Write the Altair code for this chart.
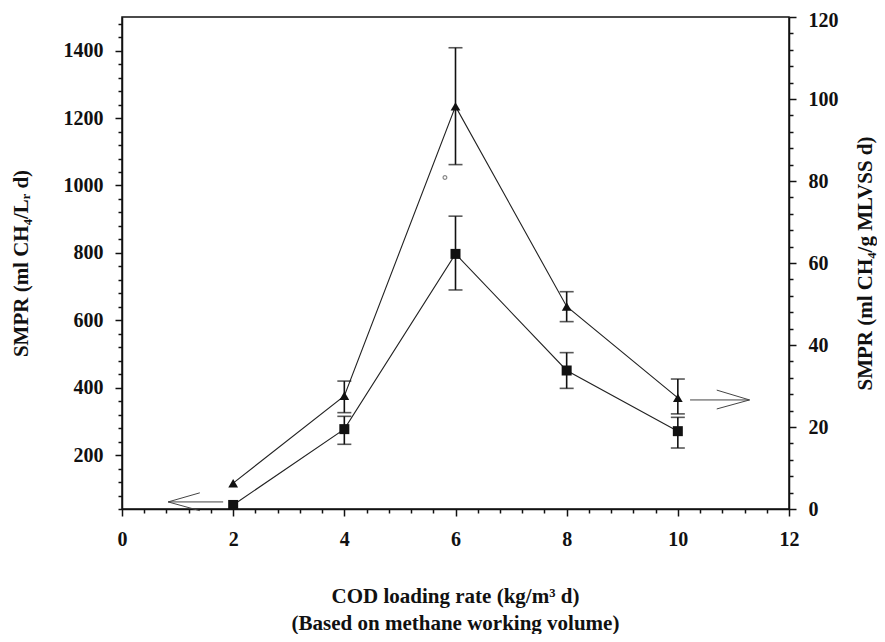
import altair as alt
import pandas as pd

# ---- data ----
cod_rate = [2, 4, 6, 8, 10]
# SMPR based on reactor volume (ml CH4/L_R d) – squares, left axis
smpr_vol = [52, 277, 797, 451, 271]
smpr_vol_lo = [None, 232, 690, 398, 221]
smpr_vol_hi = [None, 315, 909, 504, 312]
# SMPR based on biomass (ml CH4/g MLVSS d) – triangles, right axis
smpr_vss = [6.3, 27.6, 98.2, 49.4, 27.1]
smpr_vss_lo = [None, 23.5, 84.0, 45.7, 23.2]
smpr_vss_hi = [None, 31.2, 112.5, 53.0, 31.7]

# arrows (segments) pointing to the axis each series belongs to
left_arrow_x = [1.82, 0.83, 0.83]
left_arrow_x2 = [0.83, 1.40, 1.40]
left_arrow_y = [61, 61, 61]
left_arrow_y2 = [61, 88, 35]
right_arrow_x = [10.22, 11.29, 11.29]
right_arrow_x2 = [11.29, 10.70, 10.70]
right_arrow_y = [26.6, 26.6, 26.6]
right_arrow_y2 = [26.6, 29.0, 24.4]

# small stray circle in the scan
speck_x = [5.81]
speck_y = [1024]

x_ticks = [round(i * 0.4, 1) for i in range(31)]
left_ticks = list(range(40, 1501, 40))
right_ticks = list(range(0, 121, 4))

FONT = "Liberation Serif"

sq = pd.DataFrame({"x": cod_rate, "y": smpr_vol, "lo": smpr_vol_lo, "hi": smpr_vol_hi})
tr = pd.DataFrame({"x": cod_rate, "y": smpr_vss, "lo": smpr_vss_lo, "hi": smpr_vss_hi})
sq_err = sq.dropna()
tr_err = tr.dropna()
la = pd.DataFrame({"x": left_arrow_x, "x2": left_arrow_x2, "y": left_arrow_y, "y2": left_arrow_y2})
ra = pd.DataFrame({"x": right_arrow_x, "x2": right_arrow_x2, "y": right_arrow_y, "y2": right_arrow_y2})
sp = pd.DataFrame({"x": speck_x, "y": speck_y})

H = 492

x_axis = alt.Axis(
    values=x_ticks,
    labelExpr="abs(datum.value/2 - round(datum.value/2)) < 0.001 ? format(datum.value, '.0f') : ''",
    tickSize=alt.ExprRef(expr="abs(datum.value/2 - round(datum.value/2)) < 0.001 ? 7 : 4"),
    labelPadding=13,
    title=["COD loading rate (kg/m³ d)", "(Based on methane working volume)"],
    titleX=333, titleY=76, titleAlign="center", titleBaseline="top",
    titleLineHeight=27, grid=False,
)
x_enc = alt.X("x:Q", scale=alt.Scale(domain=[0, 12], nice=False, zero=False), axis=x_axis)

left_axis = alt.Axis(
    values=left_ticks,
    labelExpr="datum.value % 200 === 0 && datum.value < 1500 ? format(datum.value, 'd') : ''",
    tickSize=alt.ExprRef(expr="datum.value % 200 === 0 ? 7 : 4"),
    labelPadding=12,
    title="SMPR (ml CH₄/Lᵣ d)",
    titleX=-101, titleY=H / 2, titleAngle=270, titleAlign="center", titleBaseline="middle",
    grid=False, orient="left",
)
right_axis = alt.Axis(
    values=right_ticks,
    labelExpr="datum.value % 20 === 0 ? format(datum.value, 'd') : ''",
    tickSize=alt.ExprRef(expr="datum.value % 20 === 0 ? 7 : 4"),
    labelOffset=alt.ExprRef(expr="datum.value === 120 ? 3 : 0"),
    labelPadding=12,
    title="SMPR (ml CH₄/g MLVSS d)",
    titleX=76, titleY=H / 2, titleAngle=270, titleAlign="center", titleBaseline="middle",
    grid=False, orient="right",
)
lscale = alt.Scale(domain=[40, 1500], nice=False, zero=False)
rscale = alt.Scale(domain=[0, 120], nice=False, zero=False)


def yL(field):
    return alt.Y(f"{field}:Q", scale=lscale, axis=left_axis)


def yR(field):
    return alt.Y(f"{field}:Q", scale=rscale, axis=right_axis)


ink = "#111111"

left = alt.layer(
    alt.Chart(sq).mark_line(color="#222", strokeWidth=1.1).encode(x=x_enc, y=yL("y")),
    alt.Chart(sq_err).mark_rule(color=ink, strokeWidth=1.6).encode(x=x_enc, y=yL("lo"), y2="hi"),
    alt.Chart(sq_err).mark_tick(color=ink, orient="horizontal", size=14, thickness=1.6).encode(x=x_enc, y=yL("lo")),
    alt.Chart(sq_err).mark_tick(color=ink, orient="horizontal", size=14, thickness=1.6).encode(x=x_enc, y=yL("hi")),
    alt.Chart(sq).mark_point(shape="square", filled=True, color=ink, size=100, opacity=1).encode(x=x_enc, y=yL("y")),
    alt.Chart(la).mark_rule(color="#444", strokeWidth=1).encode(x=x_enc, x2="x2", y=yL("y"), y2="y2"),
    alt.Chart(sp).mark_point(shape="circle", filled=False, color="#555", size=14, strokeWidth=1.2).encode(x=x_enc, y=yL("y")),
)

right = alt.layer(
    alt.Chart(tr).mark_line(color="#222", strokeWidth=1.1).encode(x=x_enc, y=yR("y")),
    alt.Chart(tr_err).mark_rule(color=ink, strokeWidth=1.6).encode(x=x_enc, y=yR("lo"), y2="hi"),
    alt.Chart(tr_err).mark_tick(color=ink, orient="horizontal", size=14, thickness=1.6).encode(x=x_enc, y=yR("lo")),
    alt.Chart(tr_err).mark_tick(color=ink, orient="horizontal", size=14, thickness=1.6).encode(x=x_enc, y=yR("hi")),
    alt.Chart(tr).mark_point(shape="triangle-up", filled=True, color=ink, size=95, opacity=1).encode(x=x_enc, y=yR("y")),
    alt.Chart(ra).mark_rule(color="#444", strokeWidth=1).encode(x=x_enc, x2="x2", y=yR("y"), y2="y2"),
)

chart = (
    alt.layer(left, right)
    .resolve_scale(y="independent")
    .properties(
        width=667, height=H,
        autosize=alt.AutoSizeParams(type="none"),
        padding={"left": 114, "top": 9, "right": 88, "bottom": 125},
        background="white",
    )
    .configure_view(stroke=ink, strokeWidth=1.5)
    .configure_axis(
        domainColor=ink, domainWidth=1.5, tickColor=ink, tickWidth=1.5,
        labelFont=FONT, labelFontSize=20, labelFontWeight="bold", labelColor=ink,
        titleFont=FONT, titleFontSize=21, titleFontWeight="bold", titleColor=ink,
        labelOverlap=False, labelFlush=False,
    )
)

chart.save("out.html", embed_options={"renderer": "svg", "actions": False})
